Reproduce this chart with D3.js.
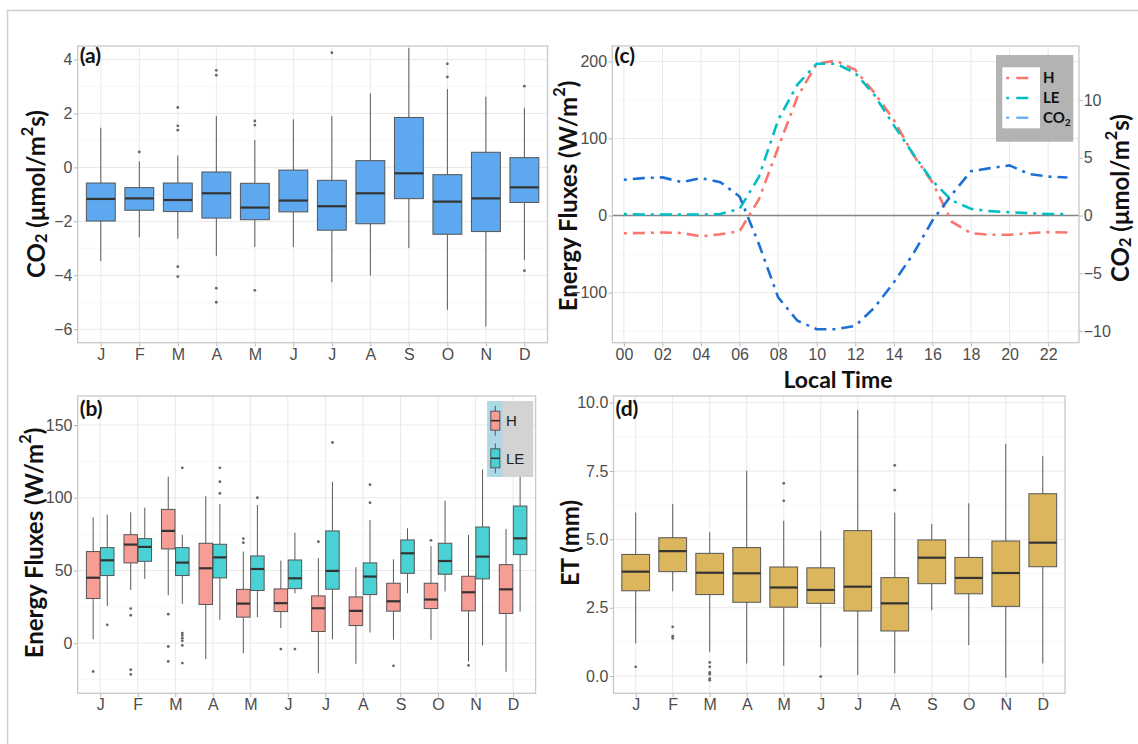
<!DOCTYPE html>
<html>
<head>
<meta charset="utf-8">
<script src="https://cdn.jsdelivr.net/npm/d3@7"></script>
<style>
	body { margin: 0; background: #fff; }
</style>
</head>
<body>
<svg id="chart" width="1138" height="744"></svg>
<script>
"use strict";

// month labels on the x axis of (a), (b) and (d)
var months = ["J", "F", "M", "A", "M", "J", "J", "A", "S", "O", "N", "D"];

// (a) monthly CO2 flux boxplots (umol/m2s)
var co2Low = [-3.47, -2.6, -2.64, -3.28, -2.95, -2.95, -4.26, -4.01, -2.99, -5.28, -5.9, -3.43];
var co2Q1 = [-1.99, -1.59, -1.64, -1.88, -1.94, -1.65, -2.33, -2.09, -1.16, -2.48, -2.38, -1.3];
var co2Median = [-1.17, -1.15, -1.21, -0.96, -1.49, -1.23, -1.44, -0.96, -0.22, -1.27, -1.15, -0.74];
var co2Q3 = [-0.58, -0.75, -0.58, -0.17, -0.59, -0.1, -0.48, 0.25, 1.85, -0.27, 0.56, 0.36];
var co2High = [1.47, 0.22, 0.44, 1.9, 1.01, 1.78, 1.9, 2.74, 4.43, 2.9, 2.62, 2.21];
var co2Outliers = [[], [0.57], [2.22, 1.54, 1.38, -3.68, -4.05], [3.6, 3.42, -4.48, -5.0], [1.72, 1.57, -4.56],
	[], [4.25], [], [], [3.84, 3.35], [], [3.01, -3.83]];

// (b) monthly sensible heat (H) and latent heat (LE) boxplots (W/m2)
var hLow = [2.7, 36.6, 33, -11, -6.9, 10.3, -20.6, -14.2, 2.3, 2.3, -12.6, -19.7];
var hQ1 = [30.7, 55.2, 64.8, 26.6, 17.9, 21.7, 8, 12.1, 22, 23.8, 22.2, 20.4];
var hMedian = [45, 67.8, 77.2, 51.5, 27.2, 27.5, 24, 22.2, 28.8, 30, 35, 37];
var hQ3 = [63, 74.6, 92, 68.7, 37, 37.3, 32.5, 31.8, 41.2, 41.2, 46, 54];
var hHigh = [86.5, 90, 114.5, 101, 63, 56.8, 58.4, 52.2, 57.7, 66.8, 74.4, 78.5];
var hOutliers = [[-19.5], [23.8, 19.2, -18.3, -21.5], [19.9, -2.3, -12.6], [], [71.9, 69.1], [-4.1],
	[69.8], [], [-15.6], [70.7], [-15.3], []];

var leLow = [25.6, 44.2, 27, 16, 17.9, 34.3, 2.7, 7.3, 34.3, 35.5, -1.6, 21.7];
var leQ1 = [46.5, 56.3, 46.5, 44.9, 36.2, 37.5, 37.1, 33.4, 48, 47.4, 44.2, 60.9];
var leMedian = [57, 66.2, 55.4, 59, 51, 44.6, 49.7, 45.8, 61.8, 56.5, 59.5, 72.1];
var leQ3 = [65.7, 71.9, 65.7, 68, 60, 57.2, 77.2, 55.2, 71, 68.7, 79.9, 94.3];
var leHigh = [88.4, 93.2, 74.4, 95.7, 95, 76, 111, 84.7, 79, 98, 119.5, 118];
var leOutliers = [[12.6], [], [120.6, 6.9, 5.3, 3.4, 1.6, -1.6, -13.7], [120.6, 111, 103], [100], [-4.1],
	[138], [109, 96.6], [], [], [], []];

// (c) mean diurnal course, hours 00..23
var hours = d3.range(24);
var diurnalH = [-23, -22.6, -22, -22.6, -27, -24.3, -20.4, 21, 88, 154, 197, 201,
	189, 159, 124, 79, 43, -8, -23, -25, -25, -23, -21.5, -22];
var diurnalLE = [2, 1.3, 1.3, 1.3, 1.3, 2, 8.7, 50, 124, 170, 197, 197,
	185, 156, 117, 80, 45, 19.6, 8.7, 5.7, 4.3, 3, 2, 2];
var diurnalCO2 = [3.09, 3.24, 3.3, 2.89, 3.24, 2.89, 1.65, -2.46, -7.08, -9.1, -9.83, -9.83,
	-9.54, -7.95, -5.78, -3.32, -0.43, 1.8, 3.84, 4.1, 4.34, 3.6, 3.37, 3.29];

// (d) monthly ET boxplots (mm)
var etLow = [1.2, 3.1, 0.89, 0.46, 0.38, 1.05, 0.04, 0.1, 2.41, 1.13, -0.06, 0.46];
var etQ1 = [3.12, 3.82, 2.98, 2.7, 2.52, 2.66, 2.38, 1.65, 3.38, 3.01, 2.55, 4.0];
var etMedian = [3.82, 4.57, 3.78, 3.76, 3.24, 3.15, 3.27, 2.66, 4.33, 3.59, 3.77, 4.88];
var etQ3 = [4.45, 5.06, 4.49, 4.7, 3.99, 3.96, 5.32, 3.6, 4.98, 4.34, 4.94, 6.67];
var etHigh = [5.98, 6.29, 5.26, 7.51, 5.68, 5.32, 9.73, 5.98, 5.56, 6.32, 8.49, 8.04];
var etOutliers = [[0.34], [1.8, 1.46, 1.38], [0.5, 0.34, 0.13, 0.07, -0.09, -0.15], [], [7.05, 6.41], [-0.02],
	[], [7.71, 6.8], [], [], [], []];

const TITLE_FONT = "Lato, 'Open Sans', sans-serif";
const TICK_FONT = "'Liberation Sans', Arial, sans-serif";

const svg = d3.select("#chart");
svg.append("rect").attr("width", 1138).attr("height", 744).attr("fill", "#fff");

// slide frame
svg.append("path")
	.attr("d", "M7.5,744 V10.5 H1138")
	.attr("fill", "none")
	.attr("stroke", "#cfcfcf")
	.attr("stroke-width", 1.5);

// text with sub/superscripts: parts = [[text, "sub"|"sup"|null], ...]
function richText(sel, parts, size) {
	let shift = 0;
	parts.forEach(([t, kind]) => {
		let target = kind === "sub" ? size * 0.22 : kind === "sup" ? -size * 0.38 : 0;
		sel.append("tspan")
			.attr("dy", target - shift)
			.attr("font-size", kind ? size * 0.68 : size)
			.text(t);
		shift = target;
	});
	return sel;
}

function makePanel(box, yDomain, yMajor, yMinor, xScale, xTicks) {
	const g = svg.append("g");
	const y = d3.scaleLinear().domain(yDomain).range([box.y1, box.y0]);

	g.append("rect")
		.attr("x", box.x0).attr("y", box.y0)
		.attr("width", box.x1 - box.x0).attr("height", box.y1 - box.y0)
		.attr("fill", "#fff");

	g.selectAll(null).data(yMinor).join("line")
		.attr("x1", box.x0).attr("x2", box.x1)
		.attr("y1", d => y(d)).attr("y2", d => y(d))
		.attr("stroke", "#f4f4f4").attr("stroke-width", 0.7);
	g.selectAll(null).data(yMajor).join("line")
		.attr("x1", box.x0).attr("x2", box.x1)
		.attr("y1", d => y(d)).attr("y2", d => y(d))
		.attr("stroke", "#e9e9e9").attr("stroke-width", 1);
	g.selectAll(null).data(xTicks).join("line")
		.attr("x1", d => xScale(d)).attr("x2", d => xScale(d))
		.attr("y1", box.y0).attr("y2", box.y1)
		.attr("stroke", "#e9e9e9").attr("stroke-width", 1);

	return { g, y };
}

function styleAxis(ag) {
	ag.select(".domain").remove();
	ag.selectAll(".tick line").attr("stroke", "#b3b3b3");
	ag.selectAll(".tick text")
		.attr("fill", "#4d4d4d")
		.style("font-family", TICK_FONT)
		.style("font-size", "16px");
}

function drawAxes(box, x, y, xTicks, xFormat, yMajor, yFormat) {
	const ax = svg.append("g")
		.attr("transform", `translate(0,${box.y1})`)
		.call(d3.axisBottom(x).tickValues(xTicks).tickFormat(xFormat).tickSize(3.7).tickPadding(2));
	styleAxis(ax);
	const ay = svg.append("g")
		.attr("transform", `translate(${box.x0},0)`)
		.call(d3.axisLeft(y).tickValues(yMajor).tickFormat(yFormat).tickSize(3.7).tickPadding(1.5));
	styleAxis(ay);
}

function drawBorder(box) {
	svg.append("rect")
		.attr("x", box.x0).attr("y", box.y0)
		.attr("width", box.x1 - box.x0).attr("height", box.y1 - box.y0)
		.attr("fill", "none")
		.attr("stroke", "#c8c8c8")
		.attr("stroke-width", 1.3);
}

function drawBoxes(g, x, y, stats, offset, width, fill) {
	const rows = months.map((m, i) => ({
		i, low: stats[0][i], q1: stats[1][i], med: stats[2][i], q3: stats[3][i], high: stats[4][i], out: stats[5][i]
	}));
	const cx = d => x(d.i) + offset;
	const bg = g.append("g");
	bg.selectAll(null).data(rows).join("line")
		.attr("x1", cx).attr("x2", cx)
		.attr("y1", d => y(d.high)).attr("y2", d => y(d.q3))
		.attr("stroke", "#5a5a5a").attr("stroke-width", 1);
	bg.selectAll(null).data(rows).join("line")
		.attr("x1", cx).attr("x2", cx)
		.attr("y1", d => y(d.q1)).attr("y2", d => y(d.low))
		.attr("stroke", "#5a5a5a").attr("stroke-width", 1);
	bg.selectAll(null).data(rows).join("rect")
		.attr("x", d => cx(d) - width / 2)
		.attr("y", d => y(d.q3))
		.attr("width", width)
		.attr("height", d => y(d.q1) - y(d.q3))
		.attr("fill", fill)
		.attr("stroke", "#555")
		.attr("stroke-width", 1);
	bg.selectAll(null).data(rows).join("line")
		.attr("x1", d => cx(d) - width / 2).attr("x2", d => cx(d) + width / 2)
		.attr("y1", d => y(d.med)).attr("y2", d => y(d.med))
		.attr("stroke", "#333").attr("stroke-width", 2.2);
	const pts = rows.flatMap(d => d.out.map(v => ({ i: d.i, v })));
	bg.selectAll(null).data(pts).join("circle")
		.attr("cx", d => x(d.i) + offset)
		.attr("cy", d => y(d.v))
		.attr("r", 1.4)
		.attr("fill", "#666");
}

function panelLabel(box, label, dyBase) {
	svg.append("text")
		.attr("x", box.x0 + 2)
		.attr("y", box.y0 + dyBase)
		.style("font-family", TITLE_FONT)
		.style("font-weight", "bold")
		.style("font-size", "21px")
		.attr("fill", "#111")
		.text(label);
}

function yTitle(xPos, yPos, parts, size) {
	const t = svg.append("text")
		.attr("transform", `translate(${xPos},${yPos}) rotate(-90)`)
		.attr("text-anchor", "middle")
		.attr("dominant-baseline", "central")
		.style("font-family", TITLE_FONT)
		.style("font-weight", "bold")
		.attr("fill", "#111");
	richText(t, parts, size);
}

const monthIdx = d3.range(12);
const co2Title = [["CO"], ["2", "sub"], [" (μmol/m"], ["2", "sup"], ["s)"]];
const fluxTitle = [["Energy Fluxes (W/m"], ["2", "sup"], [")"]];

// ---------- (a) ----------
const boxA = { x0: 77.7, x1: 547.5, y0: 46, y1: 342.7 };
const xA = d3.scalePoint().domain(monthIdx).range([boxA.x0, boxA.x1]).padding(0.6);
const pa = makePanel(boxA, [-6.5, 4.5], [-6, -4, -2, 0, 2, 4], [-5, -3, -1, 1, 3], xA, monthIdx);
drawBoxes(pa.g, xA, pa.y, [co2Low, co2Q1, co2Median, co2Q3, co2High, co2Outliers], 0, xA.step() * 0.75, "#5ea8ef");
drawAxes(boxA, xA, pa.y, monthIdx, i => months[i], [-6, -4, -2, 0, 2, 4], d3.format("d"));
drawBorder(boxA);
panelLabel(boxA, "(a)", 17);
yTitle(35, 194, co2Title, 24);

// ---------- (b) ----------
const boxB = { x0: 77.7, x1: 535.6, y0: 396, y1: 693.3 };
const xB = d3.scalePoint().domain(monthIdx).range([boxB.x0, boxB.x1]).padding(0.6);
const pb = makePanel(boxB, [-34.5, 170], [0, 50, 100, 150], [-25, 25, 75, 125], xB, monthIdx);
const dodge = xB.step() * 0.1875;
drawBoxes(pb.g, xB, pb.y, [hLow, hQ1, hMedian, hQ3, hHigh, hOutliers], -dodge, xB.step() * 0.36, "#f69d96");
drawBoxes(pb.g, xB, pb.y, [leLow, leQ1, leMedian, leQ3, leHigh, leOutliers], dodge, xB.step() * 0.36, "#4ad1d4");
drawAxes(boxB, xB, pb.y, monthIdx, i => months[i], [0, 50, 100, 150], d3.format("d"));
drawBorder(boxB);
panelLabel(boxB, "(b)", 20);
yTitle(33, 543, fluxTitle, 24);

// legend (b)
const legB = svg.append("g");
legB.append("rect").attr("x", 487.3).attr("y", 401).attr("width", 46).attr("height", 76).attr("fill", "#d3d3d3");
legB.append("rect").attr("x", 487.3).attr("y", 401).attr("width", 15).attr("height", 76).attr("fill", "#add8e6");
[["H", "#f69d96", 420.7], ["LE", "#4ad1d4", 458.3]].forEach(([name, fill, cy]) => {
	legB.append("line").attr("x1", 495.3).attr("x2", 495.3).attr("y1", cy - 15).attr("y2", cy + 15)
		.attr("stroke", "#5a5a5a").attr("stroke-width", 1);
	legB.append("rect").attr("x", 490.8).attr("y", cy - 9.5).attr("width", 9).attr("height", 19)
		.attr("fill", fill).attr("stroke", "#555").attr("stroke-width", 1);
	legB.append("line").attr("x1", 490.8).attr("x2", 499.8).attr("y1", cy).attr("y2", cy)
		.attr("stroke", "#333").attr("stroke-width", 1.6);
	legB.append("text").attr("x", 506).attr("y", cy).attr("dominant-baseline", "central")
		.style("font-family", TICK_FONT).style("font-size", "15px").attr("fill", "#222").text(name);
});

// ---------- (c) ----------
const boxC = { x0: 612.3, x1: 1079, y0: 46, y1: 342.7 };
const xC = d3.scalePoint().domain(hours).range([boxC.x0, boxC.x1]).padding(0.6);
const evenHours = hours.filter(h => h % 2 === 0);
const pc = makePanel(boxC, [-165, 220], [-100, 0, 100, 200], [-150, -50, 50, 150], xC, evenHours);
const yRight = d3.scaleLinear().domain([-165 / 15, 220 / 15]).range([boxC.y1, boxC.y0]);

pc.g.append("line")
	.attr("x1", boxC.x0).attr("x2", boxC.x1)
	.attr("y1", pc.y(0)).attr("y2", pc.y(0))
	.attr("stroke", "#858585").attr("stroke-width", 1.4);

const dotdash = "3,6,12,6";
[[diurnalH, pc.y, "#F8766D"], [diurnalLE, pc.y, "#00BFC4"], [diurnalCO2, yRight, "#1f70d6"]].forEach(([vals, ys, col]) => {
	pc.g.append("path")
		.datum(vals)
		.attr("fill", "none")
		.attr("stroke", col)
		.attr("stroke-width", 2.6)
		.attr("stroke-dasharray", dotdash)
		.attr("d", d3.line().x((v, i) => xC(hours[i])).y(v => ys(v)));
});

drawAxes(boxC, xC, pc.y, evenHours, d3.format("02d"), [-100, 0, 100, 200], d3.format("d"));
const ayR = svg.append("g")
	.attr("transform", `translate(${boxC.x1},0)`)
	.call(d3.axisRight(yRight).tickValues([-10, -5, 0, 5, 10]).tickSize(3.7).tickPadding(1));
styleAxis(ayR);
drawBorder(boxC);
panelLabel(boxC, "(c)", 17);
yTitle(567, 196, fluxTitle, 24);
yTitle(1119, 198, co2Title, 24);
svg.append("text")
	.attr("x", 838).attr("y", 388)
	.attr("text-anchor", "middle")
	.style("font-family", TITLE_FONT).style("font-weight", "bold").style("font-size", "23px")
	.attr("fill", "#111")
	.text("Local Time");

// legend (c)
const legC = svg.append("g");
legC.append("rect").attr("x", 996).attr("y", 55).attr("width", 77.3).attr("height", 86.7).attr("fill", "#b3b3b3");
legC.append("rect").attr("x", 1002.3).attr("y", 67.3).attr("width", 37.7).attr("height", 61).attr("fill", "#fff");
[[[["H"]], "#F8766D", 78], [[["LE"]], "#00BFC4", 98], [[["CO"], ["2", "sub"]], "#6cb0f6", 117.7]].forEach(([parts, col, cy]) => {
	legC.append("line").attr("x1", 1006.3).attr("x2", 1029).attr("y1", cy).attr("y2", cy)
		.attr("stroke", col).attr("stroke-width", 2.6).attr("stroke-dasharray", "2.8,7.2,12,6");
	const t = legC.append("text").attr("x", 1043).attr("y", cy + 5)
		.style("font-family", TITLE_FONT).style("font-weight", "bold").attr("fill", "#111");
	richText(t, parts, 15);
});

// ---------- (d) ----------
const boxD = { x0: 613.5, x1: 1065, y0: 396, y1: 693.3 };
const xD = d3.scalePoint().domain(monthIdx).range([boxD.x0, boxD.x1]).padding(0.6);
const pd = makePanel(boxD, [-0.63, 10.245], [0, 2.5, 5, 7.5, 10], [1.25, 3.75, 6.25, 8.75], xD, monthIdx);
drawBoxes(pd.g, xD, pd.y, [etLow, etQ1, etMedian, etQ3, etHigh, etOutliers], 0, xD.step() * 0.75, "#dbb65c");
drawAxes(boxD, xD, pd.y, monthIdx, i => months[i], [0, 2.5, 5, 7.5, 10], d3.format(".1f"));
drawBorder(boxD);
panelLabel(boxD, "(d)", 20);
yTitle(569, 543, [["ET (mm)"]], 24);
</script>
</body>
</html>
